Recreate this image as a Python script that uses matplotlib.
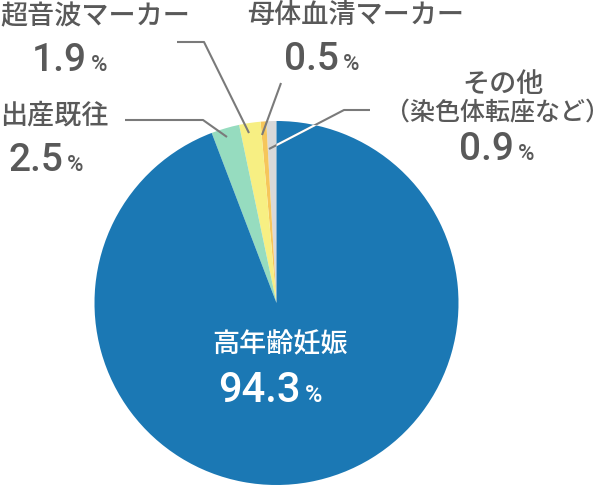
import matplotlib
matplotlib.use("Agg")
import matplotlib.pyplot as plt
import numpy as np

# data (counterclockwise from 12 o'clock)
categories = ["その他\n（染色体転座など）", "母体血清マーカー", "超音波マーカー", "出産既往", "高年齢妊娠"]
values = [0.9, 0.5, 1.9, 2.5, 94.3]
value_labels = ["0.9", "0.5", "1.9", "2.5", "94.3"]
colors = ["#d9d9d9", "#f6c65b", "#f7ef83", "#96dcbf", "#1b78b4"]

W, H = 612, 488
fig = plt.figure(figsize=(W / 100, H / 100), dpi=100)
ax = fig.add_axes([0, 0, 1, 1])

cx, cy, R = 276.5, H - 303, 182
wedges, _ = ax.pie(values, colors=colors, startangle=90, counterclock=True,
                   center=(cx, cy), radius=R, frame=True,
                   wedgeprops=dict(linewidth=0, antialiased=True))
ax.set_xlim(0, W)
ax.set_ylim(0, H)
ax.set_aspect("equal")
ax.axis("off")

JP = ["Noto Sans CJK JP", "DejaVu Sans"]
NUM = ["Roboto", "DejaVu Sans"]
TXT = "#595959"
LINE = "#7a7a7a"
WT = "medium"

def Y(y):
    return H - y

def leader(pts, white_clip=None):
    xs = [p[0] for p in pts]
    ys = [Y(p[1]) for p in pts]
    ax.plot(xs, ys, color=LINE, lw=1.5, solid_capstyle="butt", zorder=5)
    if white_clip is not None:
        ln, = ax.plot(xs, ys, color="white", lw=1.5, solid_capstyle="butt", zorder=6)
        ln.set_clip_path(white_clip)

def pct(xr, yb, num, size_num, size_pct, color):
    ax.text(xr, Y(yb), num, fontsize=size_num, color=color, family=NUM, weight="medium",
            ha="right", va="baseline", zorder=7)
    ax.text(xr + 4, Y(yb), "%", fontsize=size_pct, color=color, family=NUM, weight="medium",
            ha="left", va="baseline", zorder=7)

# leader lines
leader([(125, 120), (203, 120), (227, 137)])
leader([(177, 42), (204, 42), (249, 133)])
leader([(281, 83), (262, 135)])
leader([(370, 110), (344, 110), (269, 149)], white_clip=wedges[4])

# labels
LS = 19.5
NS = 28
PS = 16
ax.text(0, Y(17), categories[2], fontsize=LS, color=TXT, family=JP, weight=WT, ha="left", va="center")
pct(87, 71, value_labels[2], NS, PS, TXT)

ax.text(356, Y(15), categories[1], fontsize=LS, color=TXT, family=JP, weight=WT, ha="center", va="center")
pct(339, 70, value_labels[1], NS, PS, TXT)

ax.text(503, Y(85), "その他", fontsize=LS, color=TXT, family=JP, weight=WT, ha="center", va="center")
ax.text(497, Y(113), "（染色体転座など）", fontsize=18, color=TXT, family=JP, weight=WT, ha="center", va="center")
pct(514, 160, value_labels[0], NS, PS, TXT)

ax.text(0, Y(116), categories[3], fontsize=LS, color=TXT, family=JP, weight=WT, ha="left", va="center")
pct(63, 171, value_labels[3], NS, PS, TXT)

ax.text(280, Y(345), categories[4], fontsize=LS, color="white", family=JP, weight=WT, ha="center", va="center")
pct(301, 402, value_labels[4], 30, 17, "white")

fig.savefig("out.png", dpi=100)
